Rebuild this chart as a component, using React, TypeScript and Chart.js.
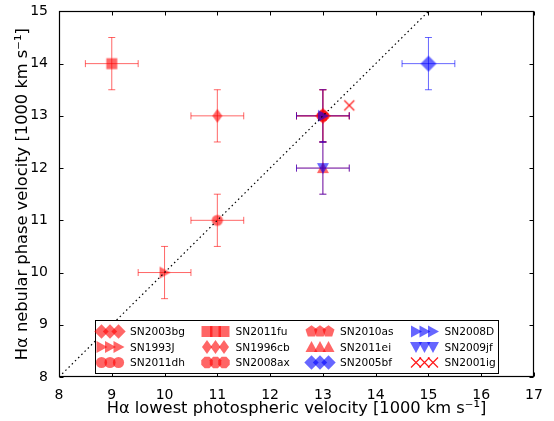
import React, { useEffect, useRef } from 'react';
import { Chart, registerables } from 'chart.js';

Chart.register(...registerables);

const FONT = "'DejaVu Sans', sans-serif";

// ---- data ----
const names = ['SN2003bg', 'SN1993J', 'SN2011dh', 'SN2011fu', 'SN1996cb', 'SN2008ax', 'SN2010as', 'SN2011ei', 'SN2005bf', 'SN2008D', 'SN2009jf', 'SN2001ig'];
const photVel = [13, 10, 11, 9, 11, 13, 13, 13, 15, 13, 13, 13.5];
const nebVel = [13, 10, 11, 14, 13, 13, 13, 12, 14, 13, 12, 13.2];
const photErr = [0.5, 0.5, 0.5, 0.5, 0.5, 0.5, 0.5, 0.5, 0.5, 0.5, 0.5, 0];
const nebErr = [0.5, 0.5, 0.5, 0.5, 0.5, 0.5, 0.5, 0.5, 0.5, 0.5, 0.5, 0];
const markers = ['D', '>', 'o', 's', 'd', '8', 'p', '^', 'D', '>', 'v', 'x'];
const colors = ['red', 'red', 'red', 'red', 'red', 'red', 'red', 'red', 'blue', 'blue', 'blue', 'red'];
const xTicks = [8, 9, 10, 11, 12, 13, 14, 15, 16, 17];
const yTicks = [8, 9, 10, 11, 12, 13, 14, 15];
const xTitle = 'H\u03b1 lowest photospheric velocity [1000 km s\u207b\u00b9]';
const yTitle = 'H\u03b1 nebular phase velocity [1000 km s\u207b\u00b9]';

function rgba(c: string, a: number) {
  return c === 'blue' ? `rgba(0,0,255,${a})` : `rgba(255,0,0,${a})`;
}

function drawMarker(ctx: CanvasRenderingContext2D, kind: string, color: string, cx: number, cy: number, scale = 1) {
  ctx.save();
  ctx.fillStyle = rgba(color, 0.6);
  ctx.strokeStyle = rgba(color, 0.9);
  ctx.beginPath();
  const poly = (pts: number[][]) => {
    pts.forEach(([a, b], i) => (i ? ctx.lineTo(cx + a * scale, cy + b * scale) : ctx.moveTo(cx + a * scale, cy + b * scale)));
    ctx.closePath();
    ctx.fill();
  };
  const regular = (n: number, r: number, start: number) => {
    const pts: number[][] = [];
    for (let k = 0; k < n; k++) {
      const a = start + (k * 2 * Math.PI) / n;
      pts.push([r * Math.cos(a), r * Math.sin(a)]);
    }
    poly(pts);
  };
  switch (kind) {
    case 'D': poly([[0, -8], [8, 0], [0, 8], [-8, 0]]); break;
    case 'd': poly([[0, -7], [5, 0], [0, 7], [-5, 0]]); break;
    case 's': poly([[-5.5, -5.5], [5.5, -5.5], [5.5, 5.5], [-5.5, 5.5]]); break;
    case 'o': ctx.arc(cx, cy, 5.6 * scale, 0, Math.PI * 2); ctx.fill(); break;
    case '>': poly([[6, 0], [-5, -6], [-5, 6]]); break;
    case '^': poly([[0, -6], [6, 5], [-6, 5]]); break;
    case 'v': poly([[0, 6], [6, -5], [-6, -5]]); break;
    case 'p': regular(5, 6.3, -Math.PI / 2); break;
    case '8': regular(8, 6.2, Math.PI / 8); break;
    case 'x':
      ctx.lineWidth = 1.2;
      ctx.moveTo(cx - 5 * scale, cy - 5 * scale); ctx.lineTo(cx + 5 * scale, cy + 5 * scale);
      ctx.moveTo(cx - 5 * scale, cy + 5 * scale); ctx.lineTo(cx + 5 * scale, cy - 5 * scale);
      ctx.stroke();
      break;
  }
  ctx.restore();
}

function markerCanvas(kind: string, color: string) {
  const c = document.createElement('canvas');
  c.width = 20; c.height = 20;
  const ctx = c.getContext('2d')!;
  drawMarker(ctx, kind, color, 10, 10);
  return c;
}

const errorBarsPlugin = {
  id: 'errorBars',
  beforeDatasetsDraw(chart: any) {
    const { ctx, scales: { x, y } } = chart;
    ctx.save();
    ctx.lineWidth = 1;
    names.forEach((_, i) => {
      if (!photErr[i] && !nebErr[i]) return;
      ctx.strokeStyle = rgba(colors[i], 0.6);
      const px = x.getPixelForValue(photVel[i]);
      const py = y.getPixelForValue(nebVel[i]);
      const x0 = x.getPixelForValue(photVel[i] - photErr[i]);
      const x1 = x.getPixelForValue(photVel[i] + photErr[i]);
      const y0 = y.getPixelForValue(nebVel[i] - nebErr[i]);
      const y1 = y.getPixelForValue(nebVel[i] + nebErr[i]);
      const cap = 3.5;
      ctx.beginPath();
      ctx.moveTo(x0, py); ctx.lineTo(x1, py);
      ctx.moveTo(x0, py - cap); ctx.lineTo(x0, py + cap);
      ctx.moveTo(x1, py - cap); ctx.lineTo(x1, py + cap);
      ctx.moveTo(px, y0); ctx.lineTo(px, y1);
      ctx.moveTo(px - cap, y0); ctx.lineTo(px + cap, y0);
      ctx.moveTo(px - cap, y1); ctx.lineTo(px + cap, y1);
      ctx.stroke();
    });
    ctx.restore();
  },
};

const framePlugin = {
  id: 'frame',
  afterDatasetsDraw(chart: any) {
    const { ctx, chartArea: { left, right, top, bottom }, scales: { x, y } } = chart;
    ctx.save();
    ctx.strokeStyle = '#000';
    ctx.lineWidth = 1;
    const L = Math.round(left) + 0.5, R = Math.round(right) - 0.5, T = Math.round(top) + 0.5, B = Math.round(bottom) - 0.5;
    ctx.beginPath();
    xTicks.forEach((v) => {
      const p = Math.round(x.getPixelForValue(v)) + 0.5;
      ctx.moveTo(p, B); ctx.lineTo(p, B - 4);
      ctx.moveTo(p, T); ctx.lineTo(p, T + 4);
    });
    yTicks.forEach((v) => {
      const p = Math.round(y.getPixelForValue(v)) + 0.5;
      ctx.moveTo(L, p); ctx.lineTo(L + 4, p);
      ctx.moveTo(R, p); ctx.lineTo(R - 4, p);
    });
    ctx.stroke();
    ctx.lineWidth = 1.2;
    ctx.strokeRect(L, T, R - L, B - T);
    ctx.restore();
  },
};

const legendPlugin = {
  id: 'customLegend',
  afterDraw(chart: any) {
    const { ctx } = chart;
    ctx.save();
    const bx = 95.5, by = 320.5, bw = 403, bh = 53;
    ctx.fillStyle = '#fff';
    ctx.fillRect(bx, by, bw, bh);
    ctx.strokeStyle = '#000';
    ctx.lineWidth = 1;
    ctx.strokeRect(bx, by, bw, bh);
    const colX = [110, 215.5, 320, 424.5];
    const rowY = [331.5, 347, 362.5];
    ctx.font = `10.6px ${FONT}`;
    ctx.fillStyle = '#000';
    ctx.textBaseline = 'alphabetic';
    ctx.textAlign = 'left';
    names.forEach((n, i) => {
      const col = Math.floor(i / 3), row = i % 3;
      const cx = colX[col], cy = rowY[row];
      [-8.5, 0, 8.5].forEach((o) => drawMarker(ctx, markers[i], colors[i], cx + o, cy, markers[i] === 'D' ? 0.9 : 1));
      ctx.fillStyle = '#000';
      ctx.fillText(n, cx + 20, cy + 3.9);
    });
    ctx.restore();
  },
};

export default function App() {
  const ref = useRef<HTMLCanvasElement>(null);
  useEffect(() => {
    if (!ref.current) return;
    const datasets: any[] = [
      {
        label: 'one-to-one',
        data: [{ x: 8, y: 8 }, { x: 17, y: 17 }],
        showLine: true,
        borderColor: '#000',
        borderWidth: 1.2,
        borderDash: [1.5, 3],
        pointRadius: 0,
        fill: false,
        order: -1,
      },
    ];
    names.forEach((n, i) => {
      datasets.push({
        label: n,
        data: [{ x: photVel[i], y: nebVel[i] }],
        pointStyle: markerCanvas(markers[i], colors[i]),
        pointRadius: 8,
        order: names.length - i,
      });
    });
    const tickFont = { family: FONT, size: 14 };
    const titleFont = { family: FONT, size: 16.3 };
    const chart = new Chart(ref.current, {
      type: 'scatter',
      data: { datasets },
      options: {
        animation: false,
        responsive: false,
        devicePixelRatio: 1,
        layout: { padding: { left: 0, top: 9, right: 20, bottom: 0 } },
        plugins: { legend: { display: false }, tooltip: { enabled: false } },
        scales: {
          x: {
            type: 'linear',
            min: 8,
            max: 17,
            afterFit: (s: any) => { s.height = 44; },
            afterBuildTicks: (s: any) => { s.ticks = xTicks.map((v) => ({ value: v })); },
            ticks: { font: tickFont, color: '#000', padding: 2, autoSkip: false, maxRotation: 0 },
            grid: { display: false },
            border: { display: false },
            title: { display: true, text: xTitle, font: titleFont, color: '#000', padding: { top: 0, bottom: 2.5 } },
          },
          y: {
            type: 'linear',
            min: 8,
            max: 15,
            afterFit: (s: any) => { s.width = 59; },
            afterBuildTicks: (s: any) => { s.ticks = yTicks.map((v) => ({ value: v })); },
            ticks: { font: tickFont, color: '#000', padding: 3, autoSkip: false },
            grid: { display: false },
            border: { display: false },
            title: { display: true, text: yTitle, font: titleFont, color: '#000', padding: { top: 12.5, bottom: 0 } },
          },
        },
      },
      plugins: [errorBarsPlugin, framePlugin, legendPlugin],
    } as any);
    return () => chart.destroy();
  }, []);
  return (
    <div style={{ position: 'fixed', left: 0, top: 0, width: 554, height: 421, background: '#fff' }}>
      <canvas ref={ref} width={554} height={421} style={{ display: 'block' }} />
    </div>
  );
}
